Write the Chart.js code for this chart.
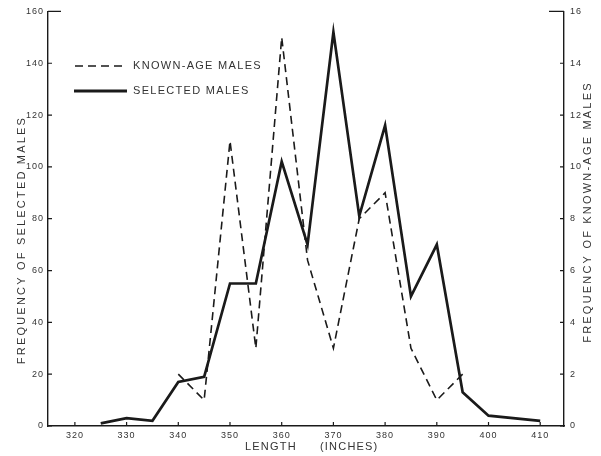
<!DOCTYPE html>
<html>
<head>
<meta charset="utf-8">
<script src="https://cdn.jsdelivr.net/npm/chart.js@4.4.0/dist/chart.umd.min.js"></script>
<style>
    html, body { margin: 0; padding: 0; background: #fff; }
    #wrap { width: 601px; height: 456px; position: relative; }
</style>
</head>
<body>
<div id="wrap"><canvas id="chart"></canvas></div>
<script>
// длины (дюймы) и частоты
const selectedLengths = [325, 330, 335, 340, 345, 350, 355, 360, 365, 370, 375, 380, 385, 390, 395, 400, 410];
const selectedMales = [1, 3, 2, 17, 19, 55, 55, 102, 70, 152, 81, 116, 50, 70, 13, 4, 2];

const knownLengths = [340, 345, 350, 355, 360, 365, 370, 375, 380, 385, 390, 395];
const knownAgeMales = [2, 1, 11, 3, 15, 6.4, 3, 8, 9, 3, 1, 2];

const lengthTicks = [320, 330, 340, 350, 360, 370, 380, 390, 400, 410];
const selectedTicks = [0, 20, 40, 60, 80, 100, 120, 140, 160];
const knownTicks = [0, 2, 4, 6, 8, 10, 12, 14, 16];

const FONT = "'Liberation Sans', Arial, sans-serif";
const INK = '#1a1a1a';
const TEXT = '#333';

const toPoints = (xs, ys) => xs.map((x, i) => ({ x: x, y: ys[i] }));

const decor = {
    id: 'decor',
    beforeDraw(chart) {
        chart.ctx.letterSpacing = '1px';
    },
    afterDraw(chart) {
        const { ctx, chartArea: a, scales } = chart;
        ctx.save();
        ctx.strokeStyle = INK;
        ctx.lineWidth = 1.2;
        ctx.setLineDash([]);
        ctx.beginPath();
        // засечки внутрь
        scales.x.ticks.forEach(t => {
            const px = scales.x.getPixelForValue(t.value);
            ctx.moveTo(px, a.bottom);
            ctx.lineTo(px, a.bottom - 4);
        });
        scales.y.ticks.forEach(t => {
            const py = scales.y.getPixelForValue(t.value);
            ctx.moveTo(a.left, py);
            ctx.lineTo(a.left + 4, py);
        });
        scales.y1.ticks.forEach(t => {
            const py = scales.y1.getPixelForValue(t.value);
            ctx.moveTo(a.right, py);
            ctx.lineTo(a.right - 4, py);
        });
        ctx.moveTo(a.left, a.top);
        ctx.lineTo(a.left + 13, a.top);
        ctx.moveTo(a.right - 15, a.top);
        ctx.lineTo(a.right, a.top);
        ctx.stroke();

        // легенда
        ctx.lineCap = 'butt';
        ctx.beginPath();
        ctx.lineWidth = 1.6;
        ctx.setLineDash([8, 5]);
        ctx.moveTo(75, 66);
        ctx.lineTo(126, 66);
        ctx.stroke();
        ctx.beginPath();
        ctx.setLineDash([]);
        ctx.lineWidth = 2.8;
        ctx.moveTo(74, 91);
        ctx.lineTo(127, 91);
        ctx.stroke();

        ctx.fillStyle = TEXT;
        ctx.font = '11px ' + FONT;
        ctx.letterSpacing = '1.3px';
        ctx.textBaseline = 'middle';
        ctx.textAlign = 'left';
        ctx.fillText('KNOWN-AGE MALES', 133, 66);
        ctx.fillText('SELECTED MALES', 133, 91);

        // подписи осей
        ctx.letterSpacing = '1.2px';
        ctx.fillText('LENGTH', 245, 447);
        ctx.fillText('(INCHES)', 320, 447);

        ctx.letterSpacing = '2.2px';
        ctx.textAlign = 'center';
        ctx.save();
        ctx.translate(22, 240);
        ctx.rotate(-Math.PI / 2);
        ctx.fillText('FREQUENCY OF SELECTED MALES', 0, 0);
        ctx.restore();
        ctx.save();
        ctx.translate(588, 212);
        ctx.rotate(-Math.PI / 2);
        ctx.fillText('FREQUENCY OF KNOWN-AGE MALES', 0, 0);
        ctx.restore();

        ctx.restore();
    }
};

const tickFont = { family: FONT, size: 9 };
const border = { display: true, color: INK, width: 1.4 };
const noGrid = { display: false, drawTicks: false };

const ctx = document.getElementById('chart').getContext('2d');
const myChart = new Chart(ctx, {
    type: 'line',
    data: {
        datasets: [{
            label: 'SELECTED MALES',
            data: toPoints(selectedLengths, selectedMales),
            yAxisID: 'y',
            borderColor: INK,
            borderWidth: 2.7,
            pointRadius: 0,
            tension: 0,
            fill: false
        }, {
            label: 'KNOWN-AGE MALES',
            data: toPoints(knownLengths, knownAgeMales),
            yAxisID: 'y1',
            borderColor: INK,
            borderWidth: 1.6,
            borderDash: [8, 5],
            pointRadius: 0,
            tension: 0,
            fill: false
        }]
    },
    options: {
        responsive: true,
        maintainAspectRatio: false,
        animation: false,
        layout: { padding: { top: 11, left: 0, right: 0, bottom: 0 } },
        plugins: {
            legend: { display: false },
            tooltip: { enabled: false }
        },
        scales: {
            x: {
                type: 'linear',
                min: 314.8,
                max: 414.6,
                afterBuildTicks: s => { s.ticks = lengthTicks.map(v => ({ value: v })); },
                afterFit: s => { s.height = 30; },
                grid: noGrid,
                border: border,
                ticks: { font: tickFont, color: TEXT, padding: 4, maxRotation: 0, autoSkip: false }
            },
            y: {
                position: 'left',
                min: 0,
                max: 160,
                afterBuildTicks: s => { s.ticks = selectedTicks.map(v => ({ value: v })); },
                afterFit: s => { s.width = 48; },
                grid: noGrid,
                border: border,
                ticks: { font: tickFont, color: TEXT, padding: 4 }
            },
            y1: {
                position: 'right',
                min: 0,
                max: 16,
                afterBuildTicks: s => { s.ticks = knownTicks.map(v => ({ value: v })); },
                afterFit: s => { s.width = 37; },
                grid: noGrid,
                border: border,
                ticks: { font: tickFont, color: TEXT, padding: 6 }
            }
        }
    },
    plugins: [decor]
});
</script>
</body>
</html>
